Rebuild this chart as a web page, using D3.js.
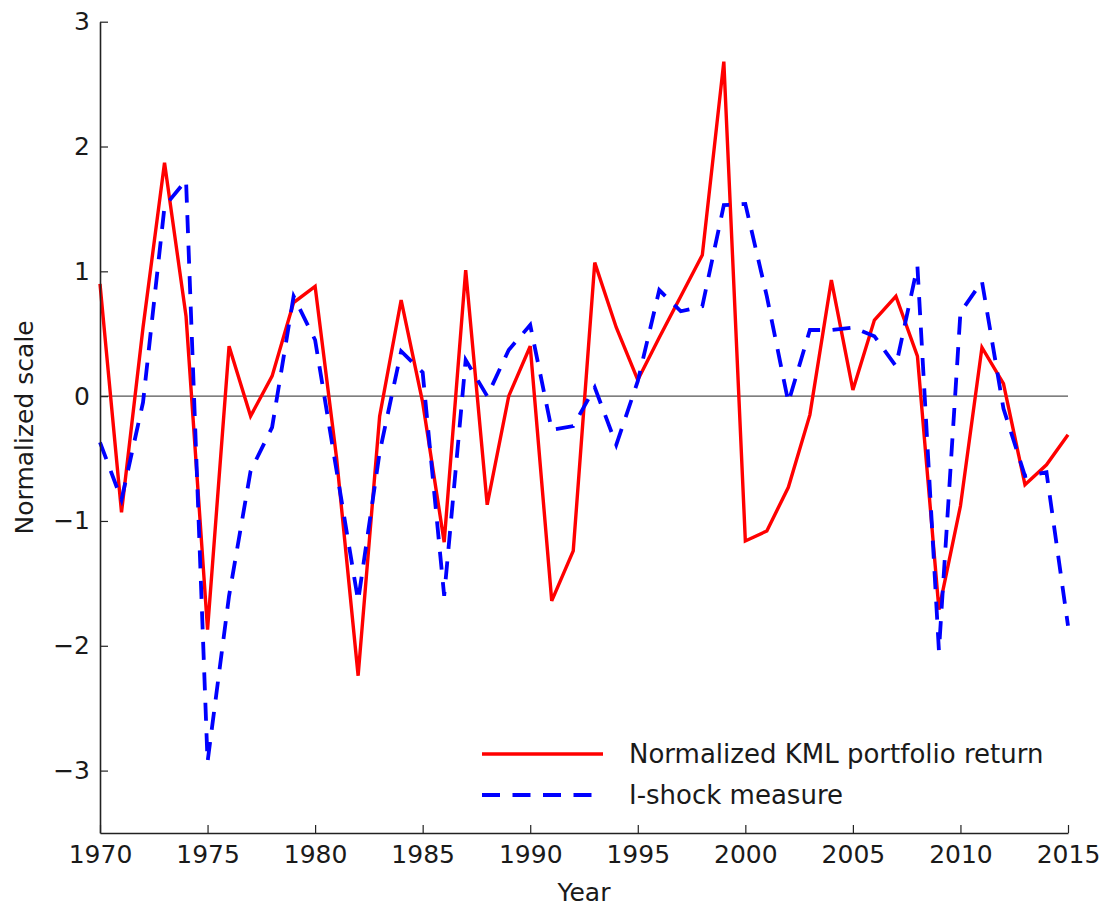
<!DOCTYPE html>
<html>
<head>
<meta charset="utf-8">
<script src="https://cdn.jsdelivr.net/npm/d3@7"></script>
<style>
  body { margin: 0; background: #fff; }
  svg text { font-family: "DejaVu Sans", sans-serif; fill: #1a1a1a; }
</style>
</head>
<body>
<svg id="chart"></svg>
<script>
// values
const years = d3.range(1970, 2016);
const kml = [0.90, -0.93, 0.55, 1.87, 0.64, -1.87, 0.40, -0.16, 0.16, 0.75,
             0.88, -0.50, -2.24, -0.16, 0.77, -0.05, -1.17, 1.01, -0.87, 0.00,
             0.40, -1.64, -1.24, 1.07, 0.55, 0.13, 0.47, 0.80, 1.13, 2.68,
             -1.16, -1.08, -0.73, -0.15, 0.93, 0.05, 0.61, 0.80, 0.32, -1.71,
             -0.88, 0.39, 0.10, -0.71, -0.55, -0.31];
const ishock = [-0.37, -0.83, -0.05, 1.52, 1.73, -2.93, -1.60, -0.60, -0.25, 0.80,
                0.45, -0.60, -1.64, -0.45, 0.36, 0.19, -1.60, 0.29, 0.00, 0.37,
                0.57, -0.27, -0.24, 0.07, -0.39, 0.12, 0.85, 0.68, 0.72, 1.53,
                1.54, 0.80, -0.05, 0.53, 0.53, 0.55, 0.48, 0.24, 1.04, -2.04,
                0.67, 0.92, -0.10, -0.64, -0.61, -1.84];
const xTicks = [1970, 1975, 1980, 1985, 1990, 1995, 2000, 2005, 2010, 2015];
const yTicks = [-3, -2, -1, 0, 1, 2, 3];
const seriesNames = ["Normalized KML portfolio return", "I-shock measure"];

const width = 1102, height = 907;
const svg = d3.select("#chart").attr("width", width).attr("height", height);

const x = d3.scaleLinear().domain([1970, 2015]).range([100, 1068]);
const y = d3.scaleLinear().domain([-3.5, 3]).range([833, 21.7]);

// zero line
svg.append("line")
  .attr("x1", x(1970)).attr("x2", x(2015))
  .attr("y1", y(0)).attr("y2", y(0))
  .attr("stroke", "#555").attr("stroke-width", 1.2);

const line = d3.line().x((d, i) => x(years[i])).y(d => y(d));

svg.append("path")
  .datum(kml)
  .attr("d", line)
  .attr("fill", "none")
  .attr("stroke", "#ff0000")
  .attr("stroke-width", 3.4)
  .attr("stroke-linejoin", "miter");

svg.append("path")
  .datum(ishock)
  .attr("d", line)
  .attr("fill", "none")
  .attr("stroke", "#0000ff")
  .attr("stroke-width", 3.8)
  .attr("stroke-dasharray", "18,12.5");

// axes (only left and bottom spines, ticks pointing inward)
const yAxis = svg.append("g")
  .attr("transform", `translate(${x(1970)},0)`)
  .call(d3.axisLeft(y).tickValues(yTicks).tickFormat(d3.format("d"))
    .tickSizeInner(-8).tickSizeOuter(0).tickPadding(10));

const xAxis = svg.append("g")
  .attr("transform", `translate(0,${y(-3.5)})`)
  .call(d3.axisBottom(x).tickValues(xTicks).tickFormat(d3.format("d"))
    .tickSizeInner(-8).tickSizeOuter(0).tickPadding(12));

[yAxis, xAxis].forEach(g => {
  g.select(".domain").attr("stroke", "#222").attr("stroke-width", 1.6);
  g.selectAll(".tick line").attr("stroke", "#222").attr("stroke-width", 1.2);
  g.selectAll(".tick text").attr("font-size", 25).attr("fill", "#1a1a1a")
    .style("font-family", "DejaVu Sans, sans-serif");
});

// axis titles
svg.append("text")
  .attr("x", (x(1970) + x(2015)) / 2).attr("y", 901)
  .attr("text-anchor", "middle").attr("font-size", 25)
  .text("Year");

svg.append("text")
  .attr("transform", `translate(33,${(y(3) + y(-3.5)) / 2}) rotate(-90)`)
  .attr("text-anchor", "middle").attr("font-size", 25)
  .text("Normalized scale");

// legend
const legend = svg.append("g");
const legendStyles = [
  { color: "#ff0000", dash: null, w: 3.4 },
  { color: "#0000ff", dash: "18,12.5", w: 3.8 }
];
seriesNames.forEach((name, i) => {
  const ly = 754 + i * 41;
  legend.append("line")
    .attr("x1", 482).attr("x2", 603).attr("y1", ly).attr("y2", ly)
    .attr("stroke", legendStyles[i].color)
    .attr("stroke-width", legendStyles[i].w)
    .attr("stroke-dasharray", legendStyles[i].dash);
  legend.append("text")
    .attr("x", 629).attr("y", ly).attr("dy", "0.36em")
    .attr("font-size", 26)
    .text(name);
});
</script>
</body>
</html>
